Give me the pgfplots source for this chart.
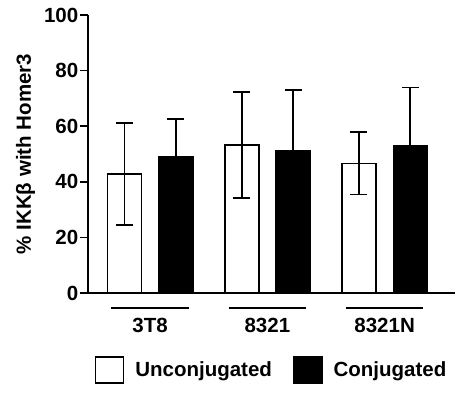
\documentclass[border=0pt]{standalone}
\usepackage{fontspec}
\setmainfont{Liberation Sans}
\usepackage{pgfplots}
\pgfplotsset{compat=1.18}
\newcommand\lab{\fontsize{20.5bp}{24bp}\selectfont\bfseries}
\begin{document}
\begin{tikzpicture}
\path[use as bounding box] (-88bp,-100bp) rectangle (367bp,293bp);
\begin{axis}[
  scale only axis, width=367bp, height=278bp,
  at={(0,0)}, anchor=south west,
  xmin=-0.53, xmax=2.6, ymin=0, ymax=100,
  axis lines*=left,
  axis line style={line width=1.8bp, black},
  ytick={0,20,...,100},
  xtick={0,1,2}, xticklabels={3T8,8321,8321N},
  xtick style={draw=none},
  tick align=outside, major tick length=8bp,
  ytick style={line width=1.8bp, black},
  /pgf/number format/assume math mode=true,
  ticklabel style={font=\lab},
  yticklabel style={inner sep=1.5bp},
  xticklabel style={yshift=-14bp},
  ylabel={\% IKKβ with Homer3},
  ylabel style={font=\lab, yshift=4bp},
  clip=false,
  legend columns=2,
  legend style={draw=none, font=\lab, at={(0.50,-0.277)}, anchor=center,
    /tikz/every odd column/.append style={column sep=9bp},
    /tikz/every even column/.append style={column sep=19bp}},
  legend image code/.code={\draw[#1] (0bp,-13bp) rectangle (28bp,13bp);},
]
\addplot[ybar, bar width=0.29, bar shift=0, fill=white, draw=black, line width=1.6bp,
  error bars/.cd, y dir=both, y explicit,
  error bar style={line width=1.8bp, black},
  error mark options={rotate=90, mark size=8.5bp, line width=1.8bp, black}]
  coordinates {(-0.219,42.8) +- (0,18.4) (0.781,53.2) +- (0,19.0) (1.781,46.6) +- (0,11.2)};
\addlegendentry{Unconjugated}
\addplot[ybar, bar width=0.29, bar shift=0, fill=black, draw=black, line width=1.6bp,
  error bars/.cd, y dir=both, y explicit,
  error bar style={line width=1.8bp, black},
  error mark options={rotate=90, mark size=8.5bp, line width=1.8bp, black}]
  coordinates {(0.219,49.0) +- (0,13.6) (1.219,51.3) +- (0,21.8) (2.219,53.1) +- (0,20.8)};
\addlegendentry{Conjugated}
\draw[line width=2bp] (axis cs:-0.33,-5.4) -- (axis cs:0.33,-5.4);
\draw[line width=2bp] (axis cs:0.67,-5.4) -- (axis cs:1.33,-5.4);
\draw[line width=2bp] (axis cs:1.67,-5.4) -- (axis cs:2.33,-5.4);
\end{axis}
\end{tikzpicture}
\end{document}
